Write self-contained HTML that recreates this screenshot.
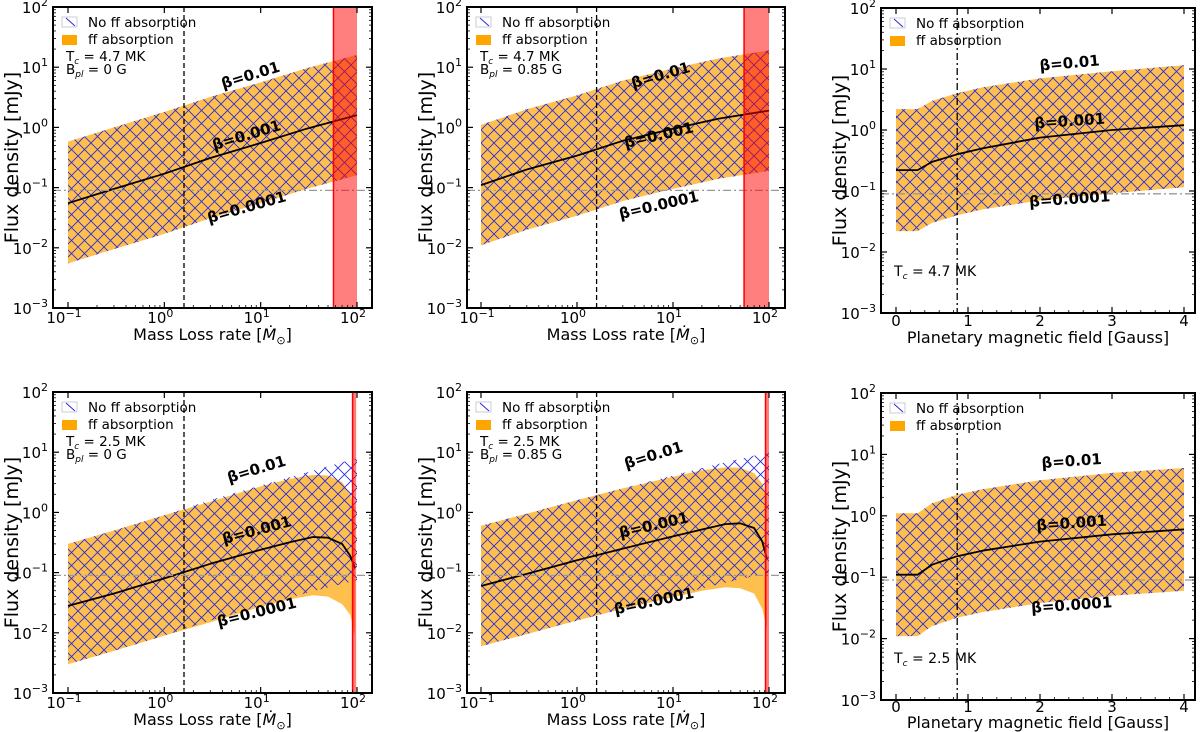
<!DOCTYPE html>
<html><head><meta charset="utf-8"><style>
body{margin:0;background:#fff}
svg{display:block;font-family:"DejaVu Sans","Liberation Sans",sans-serif}
</style></head><body>
<svg id="fig" width="1200" height="732" viewBox="0 0 1200 732" xmlns="http://www.w3.org/2000/svg">
<defs>
<pattern id="hatch" patternUnits="userSpaceOnUse" width="13" height="13">
<path d="M0,0L13,13M13,0L0,13M-1,12L1,14M12,-1L14,1M-1,1L1,-1M12,14L14,12" stroke="#2a2adf" stroke-width="0.9" fill="none"/>
</pattern>
</defs>
</svg>
<script>
// ---- data ----
const mdotX = [0.1,0.3,1,3,10,30,100];
const p1Upper = [0.58,1.0,1.8,3.2,5.6,9.6,16];
const p1Mid = [0.055,0.095,0.17,0.31,0.55,0.95,1.6];
const p1Lower = [0.0055,0.0095,0.017,0.031,0.055,0.095,0.16];
const p2Upper = [1.1,2.0,3.4,6.0,9.5,14,19];
const p2Mid = [0.11,0.2,0.34,0.6,0.95,1.4,1.9];
const p2Lower = [0.011,0.02,0.034,0.06,0.095,0.14,0.19];
const bX = [0,0.3,0.5,0.85,1.2,2,3,4];
const p3Upper = [2.2,2.2,3.0,4.0,5.0,7.0,9.2,11.5];
const p3Mid = [0.22,0.22,0.3,0.4,0.5,0.75,1.0,1.2];
const p3Lower = [0.022,0.022,0.03,0.04,0.05,0.07,0.092,0.115];
const p4HatchUpper = [0.3,0.5,0.9,1.6,2.8,4.6,8];
const p4HatchLower = [0.003,0.005,0.009,0.016,0.028,0.046,0.075];
const ffX = [0.1,0.3,1,3,10,20,35,50,70,85,95];
const p4OrangeUpper = [0.3,0.5,0.9,1.5,2.7,3.6,4.2,4.1,3.2,2.0,1.2];
const p4OrangeLower = [0.003,0.005,0.009,0.015,0.027,0.036,0.042,0.04,0.03,0.02,0.009];
const p4Mid = [0.028,0.045,0.08,0.14,0.24,0.32,0.39,0.38,0.3,0.19,0.12];
const p5HatchUpper = [0.6,0.95,1.6,2.5,4.1,6.4,10];
const p5HatchLower = [0.006,0.0095,0.016,0.025,0.041,0.064,0.1];
const p5OrangeUpper = [0.6,0.95,1.6,2.5,3.9,5.0,5.6,5.5,4.5,3.0,1.8];
const p5OrangeLower = [0.006,0.0095,0.016,0.025,0.039,0.05,0.057,0.055,0.045,0.025,0.012];
const p5Mid = [0.06,0.095,0.16,0.25,0.4,0.52,0.64,0.66,0.55,0.33,0.17];
const p6Upper = [1.1,1.1,1.6,2.2,2.7,3.8,5.0,6.0];
const p6Mid = [0.11,0.11,0.16,0.22,0.27,0.38,0.5,0.6];
const p6Lower = [0.011,0.011,0.016,0.022,0.027,0.038,0.05,0.06];
const yTickExp = [-3,-2,-1,0,1,2];
const xLogTickExp = [-1,0,1,2];
const xLinTicks = [0,1,2,3,4];
const detectionLimit = 0.09;
const mdotSun = 1.6;
const bJup = 0.85;

const svg = document.getElementById('fig');
const NS = 'http://www.w3.org/2000/svg';
function mk(tag, attrs, parent){const e=document.createElementNS(NS,tag);for(const k in attrs)e.setAttribute(k,attrs[k]);(parent||svg).appendChild(e);return e;}

const panels = [
 {id:'p1',L:53,R:372,T:7,B:308,log:true,x0:68,x1:357,hx:mdotX,hU:p1Upper,hL:p1Lower,ox:mdotX,oU:p1Upper,oL:p1Lower,mx:mdotX,mid:p1Mid,red:[57,100],tc:'4.7',bpl:'0',
  lbl:[[252,80,-17],[248,140,-17],[248,212,-16]]},
 {id:'p2',L:467,R:785,T:7,B:308,log:true,x0:481,x1:769,hx:mdotX,hU:p2Upper,hL:p2Lower,ox:mdotX,oU:p2Upper,oL:p2Lower,mx:mdotX,mid:p2Mid,red:[55,100],tc:'4.7',bpl:'0.85',
  lbl:[[662,80,-16],[660,140,-13],[660,210,-13]]},
 {id:'p3',L:881,R:1195,T:8,B:313,log:false,x0:896,x1:1184,hx:bX,hU:p3Upper,hL:p3Lower,ox:bX,oU:p3Upper,oL:p3Lower,mx:bX,mid:p3Mid,tc:'4.7',tk:13,tt:30,
  lbl:[[1070,68,-5],[1070,126,-4],[1070,204,-4]]},
 {id:'p4',L:53,R:372,T:392,B:693,log:true,x0:68,x1:357,hx:mdotX,hU:p4HatchUpper,hL:p4HatchLower,ox:ffX,oU:p4OrangeUpper,oL:p4OrangeLower,mx:ffX,mid:p4Mid,red:[90,98],tc:'2.5',bpl:'0',
  lbl:[[258,474,-17],[258,535,-15],[258,617,-14]]},
 {id:'p5',L:467,R:785,T:392,B:693,log:true,x0:481,x1:769,hx:mdotX,hU:p5HatchUpper,hL:p5HatchLower,ox:ffX,oU:p5OrangeUpper,oL:p5OrangeLower,mx:ffX,mid:p5Mid,red:[92,100],tc:'2.5',bpl:'0.85',
  lbl:[[655,460,-17],[655,530,-13],[655,606,-12]]},
 {id:'p6',L:881,R:1195,T:393,B:700,log:false,x0:896,x1:1184,hx:bX,hU:p6Upper,hL:p6Lower,ox:bX,oU:p6Upper,oL:p6Lower,mx:bX,mid:p6Mid,tc:'2.5',tk:12,tt:28,
  lbl:[[1072,466,-4],[1072,528,-4],[1072,610,-4]]}
];

panels.forEach(P=>{
 const g = mk('g',{});
 
 
 const yS = v => P.B - (Math.log10(v)+3)/5*(P.B-P.T);
 const xS = P.log ? (v => P.x0 + (Math.log10(v)+1)/3*(P.x1-P.x0)) : (v => P.x0 + v/4*(P.x1-P.x0));
 const cp = mk('clipPath',{id:'clip'+P.id},g);
 mk('rect',{x:P.L,y:P.T,width:P.R-P.L,height:P.B-P.T},cp);
 const body = mk('g',{'clip-path':'url(#clip'+P.id+')'},g);
 function band(xs,U,Lw){let d='';xs.forEach((x,i)=>{d+=(i?'L':'M')+xS(x).toFixed(1)+','+yS(U[i]).toFixed(1);});for(let i=xs.length-1;i>=0;i--)d+='L'+xS(xs[i]).toFixed(1)+','+yS(Lw[i]).toFixed(1);return d+'Z';}
 const orange = mk('path',{d:band(P.ox,P.oU,P.oL),fill:'#ffbf4d'},body);
 
 
 const hatch = mk('path',{d:band(P.hx,P.hU,P.hL),fill:'url(#hatch)'},body);
 
 
 let md='';P.mx.forEach((x,i)=>{md+=(i?'L':'M')+xS(x).toFixed(1)+','+yS(P.mid[i]).toFixed(1);});
 const mid = mk('path',{d:md,fill:'none',stroke:'#000','stroke-width':1.8,'stroke-linejoin':'round'},body);
 
 
 const dl = mk('line',{x1:P.L,x2:P.R,y1:yS(detectionLimit),y2:yS(detectionLimit),stroke:'#999','stroke-width':1.3,'stroke-dasharray':'8,3,2,3'},body);
 
 
 const vx = xS(P.log?mdotSun:bJup);
 const vl = mk('line',{x1:vx,x2:vx,y1:P.T,y2:P.B,stroke:'#000','stroke-width':1.3,'stroke-dasharray':P.log?'5,3':'7,3,2,3'},body);
 
 
 if(P.red){
  const rx0=xS(P.red[0]),rx1=xS(P.red[1]);
  const rb = mk('rect',{x:rx0,y:P.T,width:rx1-rx0,height:P.B-P.T,fill:'rgba(255,0,0,0.5)'},body);
  
  
  mk('line',{x1:rx0,x2:rx0,y1:P.T,y2:P.B,stroke:'#f00','stroke-width':1.5},body);
 }
 const fr = mk('rect',{x:P.L,y:P.T,width:P.R-P.L,height:P.B-P.T,fill:'none',stroke:'#000','stroke-width':2},g);
 
 
 yTickExp.forEach(e=>{
  const y=yS(Math.pow(10,e));
  mk('line',{x1:P.L,x2:P.L+6,y1:y,y2:y,stroke:'#000','stroke-width':1.2},g);
  mk('line',{x1:P.R,x2:P.R-6,y1:y,y2:y,stroke:'#000','stroke-width':1.2},g);
  if(e<2)for(let m=2;m<10;m++){const ym=yS(m*Math.pow(10,e));mk('line',{x1:P.L,x2:P.L+3,y1:ym,y2:ym,stroke:'#000','stroke-width':0.8},g);mk('line',{x1:P.R,x2:P.R-3,y1:ym,y2:ym,stroke:'#000','stroke-width':0.8},g);}
  const t=mk('text',{x:P.L-5,y:y+6,'text-anchor':'end','font-size':15,fill:'#000'},g);
  
  
  t.textContent='10';
  const s=mk('tspan',{dy:-7,'font-size':11},t);s.textContent=e<0?'\u2212'+(-e):String(e);
 });
 if(P.log){
  xLogTickExp.forEach(e=>{
   const x=xS(Math.pow(10,e));
   mk('line',{x1:x,x2:x,y1:P.B,y2:P.B-6,stroke:'#000','stroke-width':1.2},g);
   mk('line',{x1:x,x2:x,y1:P.T,y2:P.T+6,stroke:'#000','stroke-width':1.2},g);
   if(e<2)for(let m=2;m<10;m++){const xm=xS(m*Math.pow(10,e));mk('line',{x1:xm,x2:xm,y1:P.B,y2:P.B-3,stroke:'#000','stroke-width':0.8},g);}
   const t=mk('text',{x:x-4,y:P.B+15,'text-anchor':'middle','font-size':15,fill:'#000'},g);
   
   
   t.textContent='10';
   const s=mk('tspan',{dy:-6,'font-size':11},t);s.textContent=e<0?'\u2212'+(-e):String(e);
  });
 } else {
  xLinTicks.forEach(v=>{
   const x=xS(v);
   mk('line',{x1:x,x2:x,y1:P.B,y2:P.B-6,stroke:'#000','stroke-width':1.2},g);
   mk('line',{x1:x,x2:x,y1:P.T,y2:P.T+6,stroke:'#000','stroke-width':1.2},g);
   if(v<4)for(let m=1;m<5;m++){const xm=xS(v+m*0.2);mk('line',{x1:xm,x2:xm,y1:P.B,y2:P.B-3,stroke:'#000','stroke-width':0.8},g);}
   const t=mk('text',{x:x,y:P.B+P.tk,'text-anchor':'middle','font-size':15,fill:'#000'},g);
   
   
   t.textContent=String(v);
  });
 }
 const yt=mk('text',{x:0,y:0,transform:`translate(${P.L-35},${(P.T+P.B)/2}) rotate(-90)`,'text-anchor':'middle','font-size':19,fill:'#000'},g);
 
 
 yt.textContent='Flux density [mJy]';
 const xt=mk('text',{x:(P.L+P.R)/2,y:P.B+(P.log?32:P.tt),'text-anchor':'middle','font-size':16,fill:'#000'},g);
 
 
 if(P.log){xt.textContent='Mass Loss rate [';const s=mk('tspan',{'font-style':'italic'},xt);s.textContent='\u1E40';const s2=mk('tspan',{'font-size':11,dy:4},xt);s2.textContent='\u2299';const s3=mk('tspan',{dy:-4},xt);s3.textContent=']';}
 else xt.textContent='Planetary magnetic field [Gauss]';
 const lx=P.L+9, ly=P.T+10;
 const lg=mk('g',{},g);
 
 
 mk('rect',{x:lx,y:ly,width:15,height:10,fill:'none',stroke:'#aab','stroke-width':0.6},lg);
 mk('line',{x1:lx+4,y1:ly+1,x2:lx+13,y2:ly+9,stroke:'#2a2adf','stroke-width':1},lg);
 const t1=mk('text',{x:lx+26,y:ly+10,'font-size':13.5,fill:'#000'},lg);t1.textContent='No ff absorption';
 
 
 mk('rect',{x:lx,y:ly+18,width:15,height:10,fill:'#ffa500'},lg);
 const t2=mk('text',{x:lx+26,y:ly+27,'font-size':13.5,fill:'#000'},lg);t2.textContent='ff absorption';
 
 
 if(P.bpl!==undefined){
  const a=mk('text',{x:P.L+13,y:P.T+54,'font-size':13.5,fill:'#000'},g);
  
  
  a.textContent='T';const s=mk('tspan',{'font-size':9,dy:3,'font-style':'italic'},a);s.textContent='c';const s2=mk('tspan',{dy:-3},a);s2.textContent=' = '+P.tc+' MK';
  const b=mk('text',{x:P.L+13,y:P.T+67,'font-size':13.5,fill:'#000'},g);
  
  
  b.textContent='B';const s3=mk('tspan',{'font-size':9,dy:3,'font-style':'italic'},b);s3.textContent='pl';const s4=mk('tspan',{dy:-3},b);s4.textContent=' = '+P.bpl+' G';
 } else {
  const a=mk('text',{x:P.L+13,y:P.B-37,'font-size':14,fill:'#000'},g);
  
  
  a.textContent='T';const s=mk('tspan',{'font-size':9,dy:3,'font-style':'italic'},a);s.textContent='c';const s2=mk('tspan',{dy:-3},a);s2.textContent=' = '+P.tc+' MK';
 }
 ['\u03B2=0.01','\u03B2=0.001','\u03B2=0.0001'].forEach((txt,i)=>{
  const [x,y,r]=P.lbl[i];
  const t=mk('text',{x:x,y:y,transform:`rotate(${r},${x},${y})`,'text-anchor':'middle','font-size':15,'font-weight':'bold',fill:'#000'},g);
  
  
  t.textContent=txt;
 });
});
</script>
</body></html>
